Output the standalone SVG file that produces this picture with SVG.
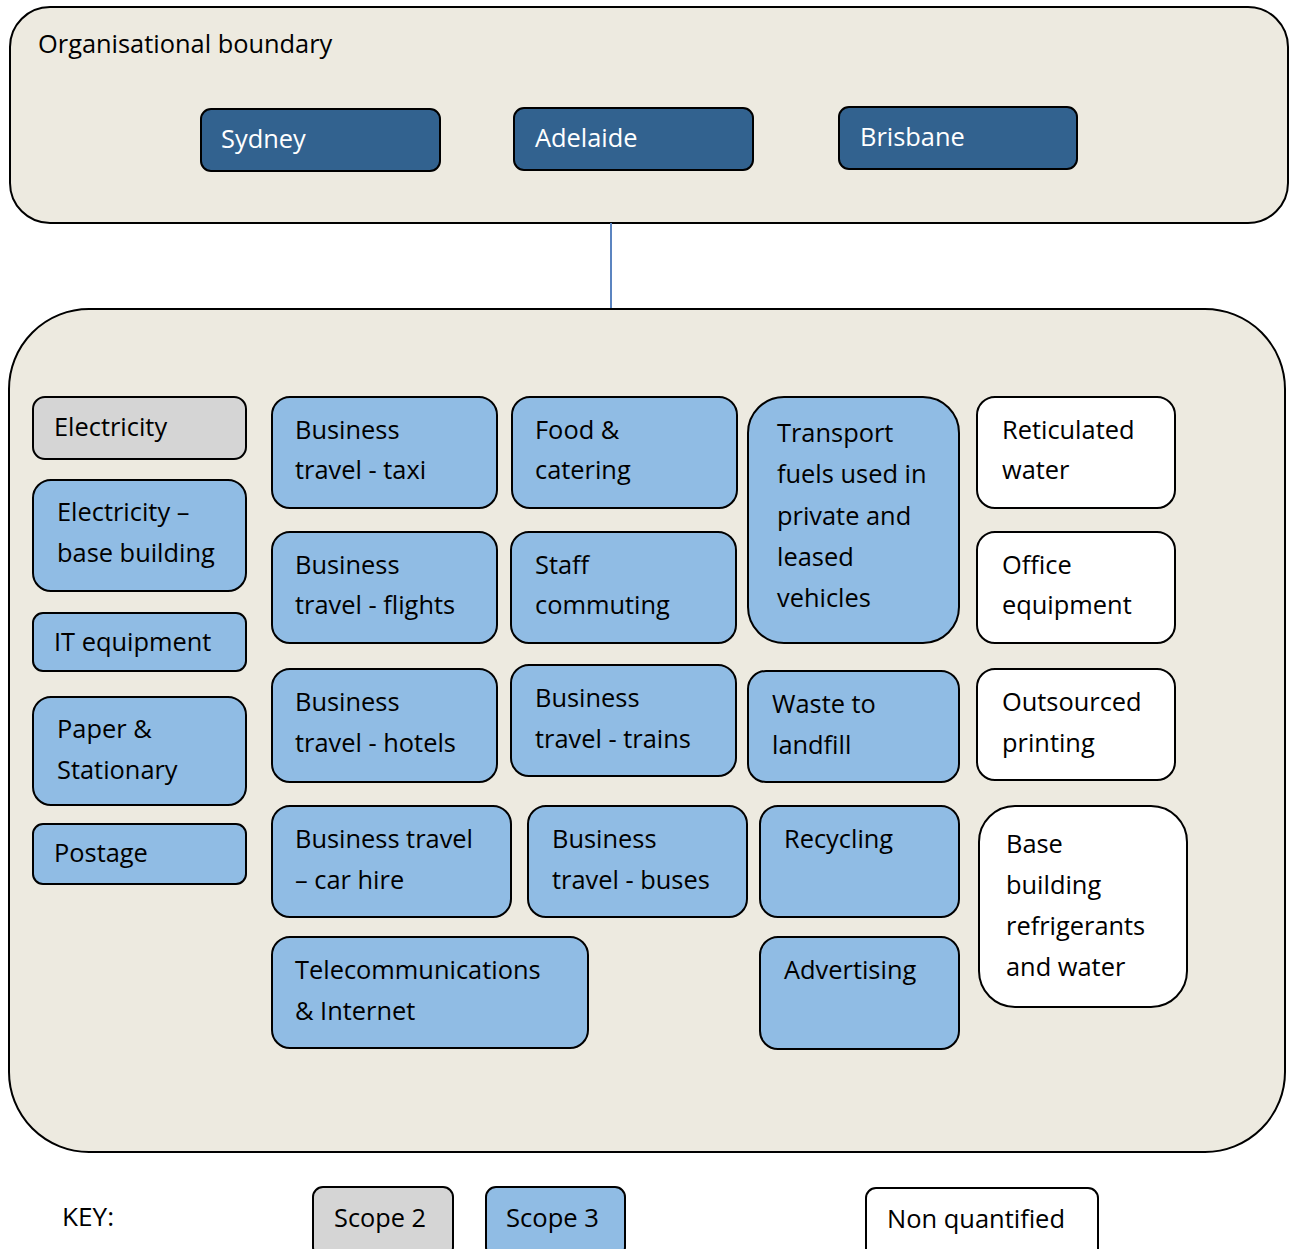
<svg xmlns="http://www.w3.org/2000/svg" width="1289" height="1249" viewBox="0 0 1289 1249">
<style>
text{font-family:"Open Sans","Liberation Sans",sans-serif;font-size:25.4px;fill:#000}
.frame{fill:#EDEAE0;stroke:#000;stroke-width:2}
.city{fill:#32628F;stroke:#000;stroke-width:2}
.city-t{fill:#fff;font-size:25.4px}
.s3{fill:#90BCE4;stroke:#000;stroke-width:2}
.s2{fill:#D5D5D5;stroke:#000;stroke-width:2}
.nq{fill:#fff;stroke:#000;stroke-width:2}
.conn{stroke:#5B84C0;stroke-width:2;fill:none}
</style>
<rect width="1289" height="1249" fill="#fff"/>
<g id="org-boundary">
<rect class="frame" x="10" y="7" width="1278" height="216" rx="40"/>
<text x="38" y="53" font-size="24.4">Organisational boundary</text>
</g>
<g id="sydney"><rect class="city" x="201" y="109" width="239" height="62" rx="10"/><text class="city-t" x="221" y="148">Sydney</text></g>
<g id="adelaide"><rect class="city" x="514" y="108" width="239" height="62" rx="10"/><text class="city-t" x="535" y="147">Adelaide</text></g>
<g id="brisbane"><rect class="city" x="839" y="107" width="238" height="62" rx="10"/><text class="city-t" x="860" y="146">Brisbane</text></g>
<g id="connectors"><line class="conn" x1="611" y1="223" x2="611" y2="309"/></g>
<g id="emissions-boundary"><rect class="frame" x="9" y="309" width="1276" height="843" rx="80"/></g>

<g id="electricity"><rect class="s2" x="33" y="397" width="213" height="62" rx="12"/><text x="54" y="436">Electricity</text></g>
<g id="electricity-base"><rect class="s3" x="33" y="480" width="213" height="111" rx="18"/><text x="57" y="521">Electricity –</text><text x="57" y="562">base building</text></g>
<g id="it-equipment"><rect class="s3" x="33" y="613" width="213" height="58" rx="10"/><text x="54" y="651">IT equipment</text></g>
<g id="paper"><rect class="s3" x="33" y="697" width="213" height="108" rx="18"/><text x="57" y="738">Paper &amp;</text><text x="57" y="779">Stationary</text></g>
<g id="postage"><rect class="s3" x="33" y="824" width="213" height="60" rx="10"/><text x="54" y="862">Postage</text></g>

<g id="taxi"><rect class="s3" x="272" y="397" width="225" height="111" rx="18"/><text x="295" y="439">Business</text><text x="295" y="479">travel - taxi</text></g>
<g id="flights"><rect class="s3" x="272" y="532" width="225" height="111" rx="18"/><text x="295" y="574">Business</text><text x="295" y="614">travel - flights</text></g>
<g id="hotels"><rect class="s3" x="272" y="669" width="225" height="113" rx="18"/><text x="295" y="711">Business</text><text x="295" y="752">travel - hotels</text></g>
<g id="car-hire"><rect class="s3" x="272" y="806" width="239" height="111" rx="18"/><text x="295" y="848">Business travel</text><text x="295" y="889">– car hire</text></g>
<g id="telecom"><rect class="s3" x="272" y="937" width="316" height="111" rx="18"/><text x="295" y="979">Telecommunications</text><text x="295" y="1020">&amp; Internet</text></g>

<g id="food"><rect class="s3" x="512" y="397" width="225" height="111" rx="18"/><text x="535" y="439">Food &amp;</text><text x="535" y="479">catering</text></g>
<g id="commuting"><rect class="s3" x="511" y="532" width="225" height="111" rx="18"/><text x="535" y="574">Staff</text><text x="535" y="614">commuting</text></g>
<g id="trains"><rect class="s3" x="511" y="665" width="225" height="111" rx="18"/><text x="535" y="707">Business</text><text x="535" y="748">travel - trains</text></g>
<g id="buses"><rect class="s3" x="528" y="806" width="219" height="111" rx="18"/><text x="552" y="848">Business</text><text x="552" y="889">travel - buses</text></g>

<g id="transport-fuels"><rect class="s3" x="748" y="397" width="211" height="246" rx="36"/><text x="777" y="442">Transport</text><text x="777" y="483">fuels used in</text><text x="777" y="525">private and</text><text x="777" y="566">leased</text><text x="777" y="607">vehicles</text></g>
<g id="waste"><rect class="s3" x="748" y="671" width="211" height="111" rx="18"/><text x="772" y="713">Waste to</text><text x="772" y="754">landfill</text></g>
<g id="recycling"><rect class="s3" x="760" y="806" width="199" height="111" rx="18"/><text x="784" y="848">Recycling</text></g>
<g id="advertising"><rect class="s3" x="760" y="937" width="199" height="112" rx="18"/><text x="784" y="979">Advertising</text></g>

<g id="water"><rect class="nq" x="977" y="397" width="198" height="111" rx="18"/><text x="1002" y="439">Reticulated</text><text x="1002" y="479">water</text></g>
<g id="office"><rect class="nq" x="977" y="532" width="198" height="111" rx="18"/><text x="1002" y="574">Office</text><text x="1002" y="614">equipment</text></g>
<g id="printing"><rect class="nq" x="977" y="669" width="198" height="111" rx="18"/><text x="1002" y="711">Outsourced</text><text x="1002" y="752">printing</text></g>
<g id="refrigerants"><rect class="nq" x="979" y="806" width="208" height="201" rx="36"/><text x="1006" y="853">Base</text><text x="1006" y="894">building</text><text x="1006" y="935">refrigerants</text><text x="1006" y="976">and water</text></g>

<g id="key">
<text x="62" y="1226" textLength="52" lengthAdjust="spacingAndGlyphs">KEY:</text>
<g id="key-scope2"><rect class="s2" x="313" y="1187" width="140" height="70" rx="10"/><text x="334" y="1227" textLength="92" lengthAdjust="spacingAndGlyphs">Scope 2</text></g>
<g id="key-scope3"><rect class="s3" x="486" y="1187" width="139" height="70" rx="10"/><text x="506" y="1227" textLength="93" lengthAdjust="spacingAndGlyphs">Scope 3</text></g>
<g id="key-nq"><rect class="nq" x="866" y="1188" width="232" height="70" rx="10"/><text x="887" y="1228" textLength="178" lengthAdjust="spacingAndGlyphs">Non quantified</text></g>
</g>
</svg>
